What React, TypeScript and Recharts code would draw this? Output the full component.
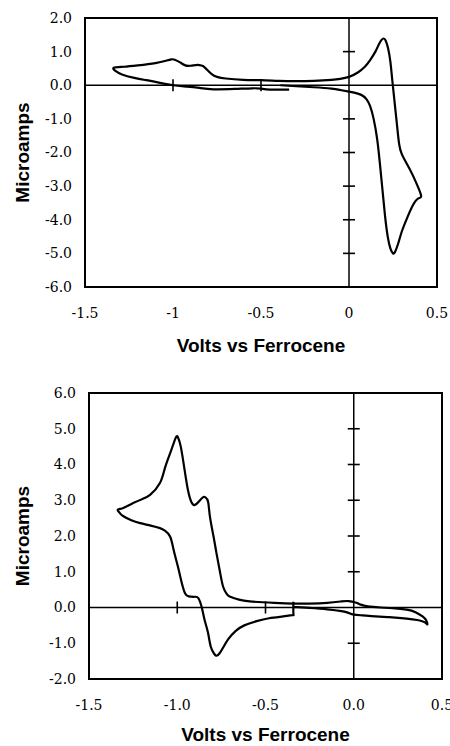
import React from "react";
import {
  LineChart,
  Line,
  XAxis,
  YAxis,
  ReferenceArea,
  ReferenceLine,
  ReferenceDot,
} from "recharts";

// top voltammogram (scan starts near -0.39 V, ends at -0.34 V)
const topXTicks = [-1.5, -1, -0.5, 0, 0.5];
const topYTicks = [2, 1, 0, -1, -2, -3, -4, -5, -6];
const topInnerXTicks = [-1, -0.5];
const topInnerYTicks = [1, -1, -2, -3, -4, -5];
const topScan: [number, number][] = [
  [-0.39, 0.0], [-0.3, -0.03], [-0.2, -0.06], [-0.1, -0.1], [-0.05, -0.14],
  [0.0, -0.19], [0.05, -0.25], [0.08, -0.32], [0.1, -0.42], [0.12, -0.62],
  [0.14, -1.0], [0.16, -1.6], [0.175, -2.3], [0.19, -3.1], [0.205, -3.9],
  [0.22, -4.5], [0.235, -4.85], [0.25, -5.0], [0.262, -4.95], [0.28, -4.7],
  [0.3, -4.35], [0.33, -3.95], [0.36, -3.6], [0.39, -3.38], [0.41, -3.3],
  [0.39, -3.0], [0.36, -2.65], [0.33, -2.35], [0.3, -2.05], [0.285, -1.75],
  [0.275, -1.3], [0.265, -0.8], [0.255, -0.3], [0.245, 0.2], [0.235, 0.7],
  [0.222, 1.1], [0.208, 1.33], [0.197, 1.39], [0.185, 1.35], [0.17, 1.22],
  [0.15, 1.0], [0.12, 0.75], [0.09, 0.55], [0.05, 0.38], [0.0, 0.25],
  [-0.05, 0.19], [-0.1, 0.16], [-0.2, 0.13], [-0.3, 0.12], [-0.4, 0.13],
  [-0.5, 0.15], [-0.6, 0.16], [-0.7, 0.2], [-0.75, 0.25], [-0.78, 0.33],
  [-0.81, 0.48], [-0.83, 0.57], [-0.85, 0.6], [-0.87, 0.6], [-0.9, 0.58],
  [-0.93, 0.59], [-0.96, 0.68], [-0.99, 0.76], [-1.01, 0.77], [-1.04, 0.73],
  [-1.1, 0.66], [-1.2, 0.59], [-1.28, 0.55], [-1.337, 0.52], [-1.325, 0.42],
  [-1.29, 0.32], [-1.22, 0.22], [-1.15, 0.15], [-1.08, 0.08], [-1.0, 0.0],
  [-0.92, -0.04], [-0.85, -0.08], [-0.77, -0.12], [-0.65, -0.11], [-0.55, -0.09],
  [-0.5, -0.1], [-0.45, -0.13], [-0.34, -0.13],
];

// bottom voltammogram
const bottomXTicks = [-1.5, -1, -0.5, 0, 0.5];
const bottomYTicks = [6, 5, 4, 3, 2, 1, 0, -1, -2];
const bottomInnerXTicks = [-1, -0.5];
const bottomInnerYTicks = [5, 4, 3, 2, 1, -1];
const bottomScan: [number, number][] = [
  [-0.342, 0.02], [-0.25, -0.01], [-0.15, -0.05], [-0.07, -0.1], [-0.03, -0.15],
  [0.0, -0.2], [0.05, -0.22], [0.1, -0.24], [0.2, -0.27], [0.3, -0.31],
  [0.36, -0.35], [0.4, -0.41], [0.417, -0.47], [0.41, -0.36], [0.39, -0.25],
  [0.35, -0.13], [0.3, -0.06], [0.22, -0.02], [0.15, 0.0], [0.08, 0.03],
  [0.04, 0.08], [0.01, 0.14], [-0.03, 0.18], [-0.07, 0.17], [-0.15, 0.13],
  [-0.25, 0.11], [-0.34, 0.11], [-0.45, 0.13], [-0.59, 0.17], [-0.65, 0.22],
  [-0.7, 0.3], [-0.72, 0.38], [-0.74, 0.58], [-0.758, 1.0], [-0.777, 1.5],
  [-0.795, 2.0], [-0.815, 2.55], [-0.825, 2.95], [-0.84, 3.08], [-0.855, 3.08],
  [-0.875, 2.98], [-0.9, 2.87], [-0.92, 2.95], [-0.94, 3.3], [-0.96, 3.9],
  [-0.98, 4.5], [-0.995, 4.75], [-1.005, 4.78], [-1.02, 4.6], [-1.04, 4.32],
  [-1.07, 3.9], [-1.098, 3.48], [-1.154, 3.15], [-1.2, 3.03], [-1.25, 2.92],
  [-1.3, 2.8], [-1.322, 2.76], [-1.338, 2.73], [-1.325, 2.64], [-1.307, 2.56],
  [-1.26, 2.44], [-1.21, 2.36],
  [-1.15, 2.29], [-1.098, 2.22], [-1.07, 2.15], [-1.04, 1.98], [-1.02, 1.6],
  [-0.996, 1.14], [-0.975, 0.7], [-0.956, 0.4], [-0.935, 0.31], [-0.9, 0.3],
  [-0.88, 0.26], [-0.861, 0.0], [-0.845, -0.35], [-0.826, -0.7], [-0.81, -1.1],
  [-0.79, -1.3], [-0.777, -1.35], [-0.76, -1.28], [-0.74, -1.12], [-0.71, -0.88],
  [-0.67, -0.66], [-0.62, -0.5], [-0.55, -0.38], [-0.48, -0.3], [-0.4, -0.25],
  [-0.36, -0.22], [-0.342, -0.21], [-0.342, -0.17], [-0.342, 0.16],
];

const tickFont = { fill: "#000", fontSize: 14, fontFamily: "'DejaVu Serif', serif" };
const titleFont = "'Liberation Sans', Arial, sans-serif";

const HTick = (p: any) => (
  <line x1={p.cx - 6} x2={p.cx + 6} y1={p.cy} y2={p.cy} stroke="#000" strokeWidth={1.6} />
);
const VTick = (p: any) => (
  <line x1={p.cx} x2={p.cx} y1={p.cy - 6} y2={p.cy + 6} stroke="#000" strokeWidth={1.6} />
);

const CVChart = ({
  scan,
  xTicks,
  yTicks,
  innerX,
  innerY,
  xFmt,
  margin,
  xTitleDy,
  yTitleDx,
}: any) => {
  const data = scan.map(([v, i]: [number, number]) => ({ v, i }));
  const yDomain = [yTicks[yTicks.length - 1], yTicks[0]];
  return (
    <LineChart
      width={450}
      height={373}
      data={data}
      margin={margin}
      style={{ fontFamily: "'DejaVu Serif', serif" }}
    >
      <XAxis
        type="number"
        dataKey="v"
        domain={[-1.5, 0.5]}
        ticks={xTicks}
        interval={0}
        tickFormatter={xFmt}
        axisLine={false}
        tickLine={false}
        tickSize={0}
        tickMargin={21}
        height={60}
        tick={tickFont}
        label={{
          content: (p: any) => (
            <text
              x={p.viewBox.x + p.viewBox.width / 2}
              y={p.viewBox.y + xTitleDy}
              textAnchor="middle"
              fontFamily={titleFont}
              fontWeight="bold"
              fontSize={19}
              fill="#000"
            >
              Volts vs Ferrocene
            </text>
          ),
        }}
      />
      <YAxis
        type="number"
        domain={yDomain}
        ticks={yTicks}
        interval={0}
        tickFormatter={(t: number) => t.toFixed(1)}
        axisLine={false}
        tickLine={false}
        tickSize={0}
        tickMargin={13}
        width={70}
        tick={tickFont}
        label={{
          content: (p: any) => {
            const x = p.viewBox.x + p.viewBox.width - yTitleDx;
            const y = p.viewBox.y + p.viewBox.height / 2;
            return (
              <text
                x={x}
                y={y}
                transform={`rotate(-90, ${x}, ${y})`}
                textAnchor="middle"
                fontFamily={titleFont}
                fontWeight="bold"
                fontSize={19}
                fill="#000"
              >
                Microamps
              </text>
            );
          },
        }}
      />
      <ReferenceArea
        x1={-1.5}
        x2={0.5}
        y1={yDomain[0]}
        y2={yDomain[1]}
        fill="none"
        stroke="#000"
        strokeWidth={2}
      />
      <ReferenceLine x={0} stroke="#000" strokeWidth={1.5} />
      <ReferenceLine y={0} stroke="#000" strokeWidth={1.5} />
      {innerY.map((t: number) => (
        <ReferenceDot key={"y" + t} x={0} y={t} shape={HTick} />
      ))}
      {innerX.map((t: number) => (
        <ReferenceDot key={"x" + t} x={t} y={0} shape={VTick} />
      ))}
      <Line
        type="natural"
        dataKey="i"
        stroke="#000"
        strokeWidth={2.2}
        dot={false}
        isAnimationActive={false}
      />
    </LineChart>
  );
};

export default function App() {
  return (
    <div
      style={{
        position: "absolute",
        left: 0,
        top: 0,
        width: 450,
        height: 746,
        background: "#fff",
        overflow: "hidden",
        fontFamily: "'DejaVu Serif', serif",
      }}
    >
      <div style={{ position: "absolute", left: 0, top: 0 }}>
        <CVChart
          scan={topScan}
          xTicks={topXTicks}
          yTicks={topYTicks}
          innerX={topInnerXTicks}
          innerY={topInnerYTicks}
          xFmt={(t: number) => String(t)}
          margin={{ top: 18, right: 13, bottom: 26, left: 15 }}
          xTitleDy={65}
          yTitleDx={56}
        />
      </div>
      <div style={{ position: "absolute", left: 0, top: 373 }}>
        <CVChart
          scan={bottomScan}
          xTicks={bottomXTicks}
          yTicks={bottomYTicks}
          innerX={bottomInnerXTicks}
          innerY={bottomInnerYTicks}
          xFmt={(t: number) => t.toFixed(1)}
          margin={{ top: 20, right: 8, bottom: 7, left: 19 }}
          xTitleDy={62}
          yTitleDx={60}
        />
      </div>
    </div>
  );
}
